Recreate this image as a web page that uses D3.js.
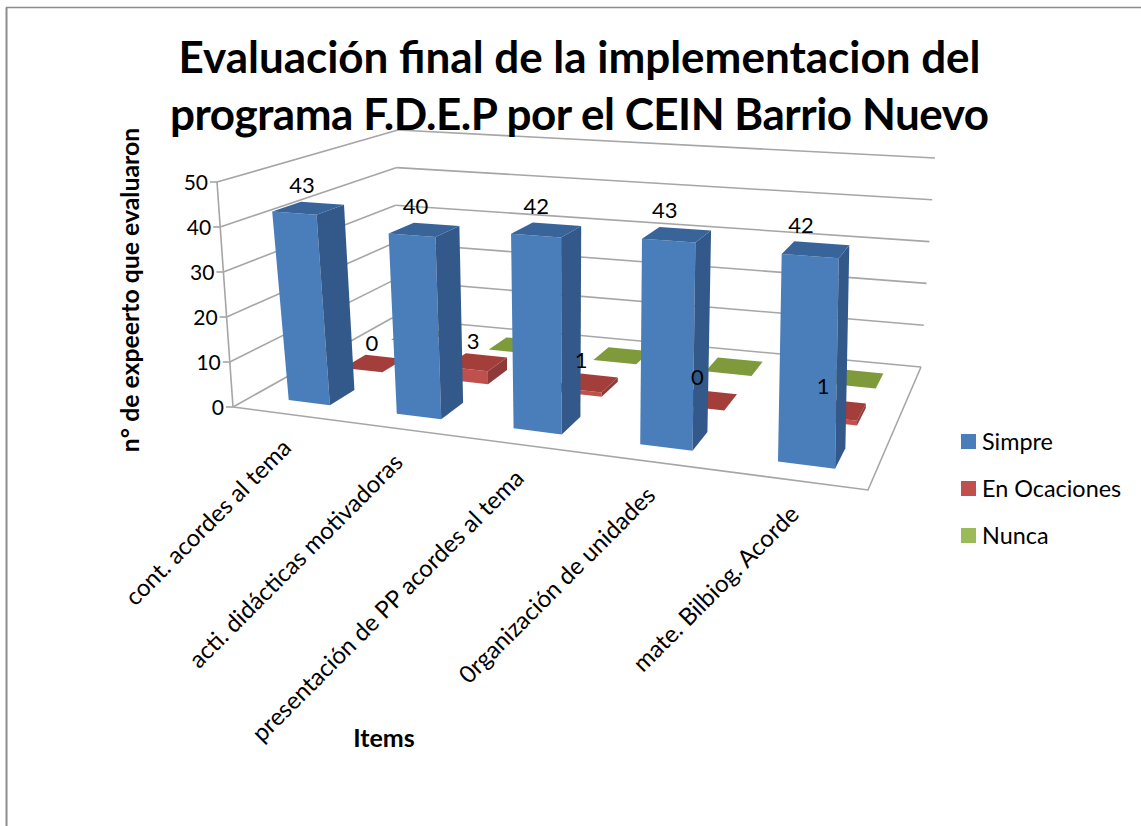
<!DOCTYPE html>
<html><head><meta charset="utf-8">
<script src="https://cdnjs.cloudflare.com/ajax/libs/d3/7.8.5/d3.min.js"></script>
<style>html,body{margin:0;padding:0;background:#fff}svg{display:block}text{font-family:Lato,"Open Sans",sans-serif;fill:#000}</style>
</head><body><svg id="c" width="1141" height="826"></svg>
<script>
const titleLines = ["Evaluación final de la implementacion del","programa F.D.E.P por el CEIN Barrio Nuevo"];
const titleWidths = [802,819];
const categories = ["cont. acordes al tema","acti. didácticas motivadoras","presentación de PP acordes al tema","0rganización de unidades","mate. Bilbiog. Acorde"];
const seriesNames = ["Simpre","En Ocaciones","Nunca"];
const simpre = [43,40,42,43,42];
const enOcaciones = [0,3,1,0,1];
const nunca = [0,0,0,0,0];
const yTicks = [0,10,20,30,40,50];
const yTitle = "n° de expeerto que evaluaron";
const xTitle = "Items";
const colors = {front:["#4a7ebb","#c0504d","#9bbb59"],side:["#33598a","#8e3a38","#6f8a3c"],top:["#386499","#a43e3b","#7f9a3a"]};

const svg = d3.select("#c");
// frame of the 3D box (projected corners): floor and the plane at the axis maximum
const floor = [[233,407],[868,490],[921,367],[392,318]]; // front-left, front-right, back-right, back-left
const roof  = [[217,182],[882,227],[935,158],[398,130]];
function homography(q){
  const [[x0,y0],[x1,y1],[x2,y2],[x3,y3]] = q;
  const dx1=x1-x2,dx2=x3-x2,sx=x0-x1+x2-x3,dy1=y1-y2,dy2=y3-y2,sy=y0-y1+y2-y3;
  const d=dx1*dy2-dx2*dy1,g=(sx*dy2-dx2*sy)/d,h=(dx1*sy-sx*dy1)/d;
  const a=x1-x0+g*x1,b=x3-x0+h*x3,c=x0,e=y1-y0+g*y1,f=y3-y0+h*y3,i=y0;
  return (u,v)=>{const w=g*u+h*v+1;return [(a*u+b*v+c)/w,(e*u+f*v+i)/w];};
}
const hFloor=homography(floor),hRoof=homography(roof);
const yScale=d3.scaleLinear().domain([0,50]).range([0,1]);
const xBand=d3.scaleBand().domain(categories).range([0.008,1.008]).paddingInner(0.61).paddingOuter(0.305);
const zBand=d3.scaleBand().domain(seriesNames).range([0,1.01]).paddingInner(0.55).paddingOuter(0.33);
const P=(u,v,val)=>{const a=hFloor(u,v),b=hRoof(u,v),t=yScale(val);return [a[0]+(b[0]-a[0])*t,a[1]+(b[1]-a[1])*t];};
// the columns lean slightly against the axis frame in the source picture
const leanX=d3.scaleLinear().domain([0,50]).range([0,-10]);
const leanY=d3.scaleLinear().domain([0,50]).range([0,3]);
const B=(u,v,val)=>{const p=P(u,v,val);return [p[0]+leanX(val),p[1]+leanY(val)];};
const line=d3.line();
const closed=p=>line(p)+"Z";

// grid
const gridCol="#a6a6a6";
const g=svg.append("g").attr("fill","none").attr("stroke",gridCol).attr("stroke-width",1.6);
yTicks.forEach(t=>{
  g.append("path").attr("d",line([P(0,1,t),P(1,1,t)]));
  g.append("path").attr("d",line([P(0,0,t),P(0,1,t)]));
});
g.append("path").attr("d",line([P(0,0,0),P(1,0,0),P(1,1,0)]));
g.append("path").attr("d",line([P(0,0,0),P(0,0,50)]));

// outer frame of the picture
svg.append("path").attr("d",line([[6.5,826],[6.5,7.5]])).attr("fill","none").attr("stroke","#8c8c8c").attr("stroke-width",2);
svg.append("path").attr("d",line([[6,7.5],[1141,7.5]])).attr("fill","none").attr("stroke","#8c8c8c").attr("stroke-width",1.5);

// ticks and tick labels
yTicks.forEach(t=>{
  const p=P(0,0,t);
  svg.append("path").attr("d",line([[p[0]-7,p[1]],p])).attr("stroke",gridCol).attr("stroke-width",1.6);
  svg.append("text").attr("x",p[0]-9).attr("y",p[1]+1).attr("dy","0.35em").attr("text-anchor","end").attr("font-size",21).text(t);
});

// bars, back to front
const allSeries=[simpre,enOcaciones,nunca];
const order=[2,1,0];
const bars=svg.append("g");
order.forEach(si=>{
  categories.forEach((cat,ci)=>{
    const val=allSeries[si][ci];
    const u0=xBand(cat),u1=u0+xBand.bandwidth(),v0=zBand(seriesNames[si]),v1=v0+zBand.bandwidth();
    const gb=bars.append("g");
    gb.append("path").attr("d",closed([B(u0,v0,0),B(u1,v0,0),B(u1,v0,val),B(u0,v0,val)])).attr("fill",colors.front[si]);
    gb.append("path").attr("d",closed([B(u1,v0,0),B(u1,v1,0),B(u1,v1,val),B(u1,v0,val)])).attr("fill",colors.side[si]);
    gb.append("path").attr("d",closed([B(u0,v0,val),B(u1,v0,val),B(u1,v1,val),B(u0,v1,val)])).attr("fill",colors.top[si]);
  });
});

// data labels
const lab=svg.append("g").attr("font-size",22).attr("text-anchor","middle");
categories.forEach((cat,ci)=>{
  const u=xBand(cat)+xBand.bandwidth()/2,v0=zBand(seriesNames[0]);
  const a=P(u,v0+zBand.bandwidth(),simpre[ci]);
  lab.append("text").attr("x",a[0]-29).attr("y",a[1]-8).text(simpre[ci]);
  const v1=zBand(seriesNames[1]);
  const b=P(u-0.026,v1+zBand.bandwidth(),enOcaciones[ci]);
  lab.append("text").attr("x",b[0]).attr("y",b[1]-5).text(enOcaciones[ci]);
});

// category labels
categories.forEach(cat=>{
  const p=P(xBand(cat)+xBand.bandwidth()/2,0,0);
  svg.append("text").attr("transform",`translate(${p[0]+3},${p[1]+35}) rotate(-45)`).attr("text-anchor","end").attr("font-size",24).text(cat);
});

// titles
titleLines.forEach((s,i)=>svg.append("text").attr("x",579.5).attr("y",73+i*57).attr("text-anchor","middle").attr("font-size",44).attr("font-weight",700).attr("textLength",titleWidths[i]).attr("lengthAdjust","spacing").text(s));
svg.append("text").attr("transform","translate(139,290) rotate(-90)").attr("text-anchor","middle").attr("font-size",24.8).attr("font-weight",700).text(yTitle);
svg.append("text").attr("x",384).attr("y",747).attr("text-anchor","middle").attr("font-size",25).attr("font-weight",700).text(xTitle);

// legend
const legendY=d3.scalePoint().domain(seriesNames).range([441.5,535.5]);
seriesNames.forEach((s,i)=>{
  svg.append("rect").attr("x",961).attr("y",legendY(s)-7.5).attr("width",15).attr("height",15).attr("fill",colors.front[i]);
  svg.append("text").attr("x",982).attr("y",legendY(s)).attr("dy","0.35em").attr("font-size",23.4).text(s);
});
</script></body></html>
